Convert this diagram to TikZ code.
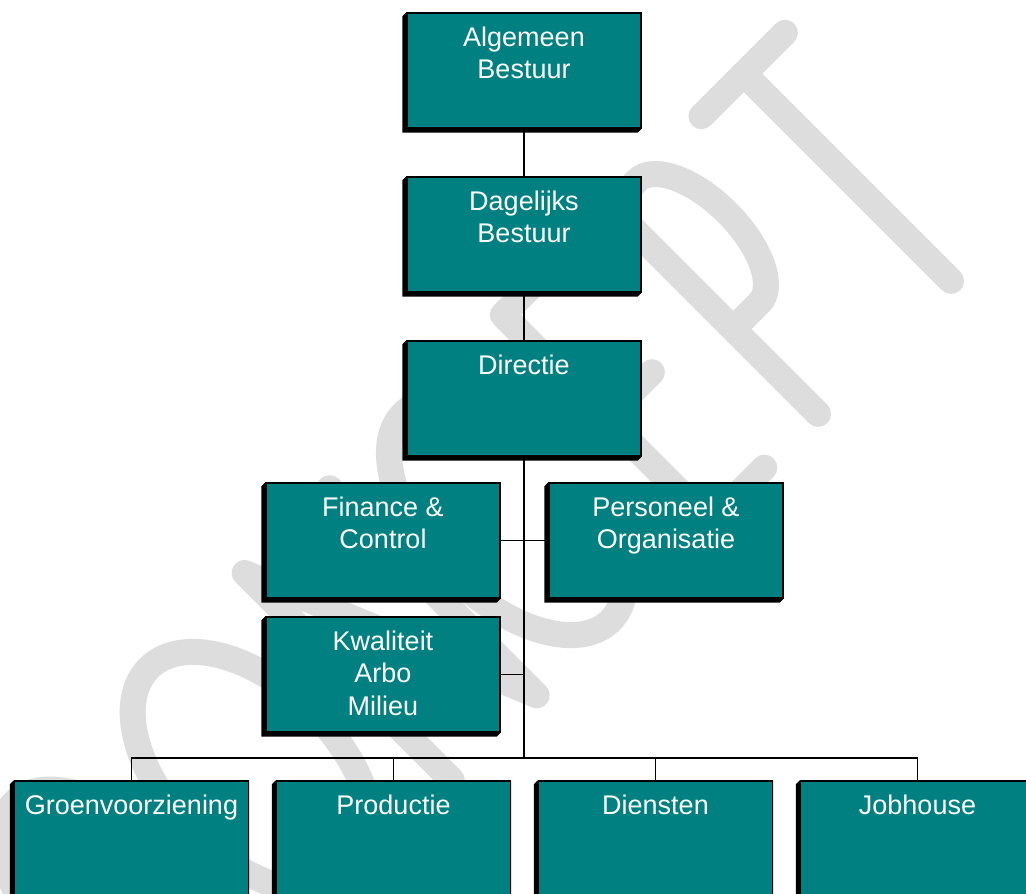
\documentclass[tikz,border=0pt]{standalone}
\usepackage{fontspec}
\setmainfont{Liberation Sans}
\pgfdeclarelayer{paper}
\pgfdeclarelayer{watermark}
\pgfdeclarelayer{extrude}
\pgfsetlayers{paper,watermark,extrude,main}
\definecolor{unitfill}{RGB}{0,128,128}
\definecolor{wmgray}{RGB}{221,221,221}
\tikzset{
  unit/.style={rectangle, fill=unitfill, draw=black, line width=1.3pt,
    minimum width=234pt, minimum height=115pt, inner sep=0pt},
  unittext/.style={text=white, font=\fontsize{27}{32.5}\selectfont,
    align=center, inner sep=0pt, anchor=north},
  link/.style={draw=black, line width=1.3pt},
  wmstroke/.style={draw=wmgray, line width=26pt, line cap=round, line join=round},
}
\begin{document}
\begin{tikzpicture}[x=1pt,y=-1pt]
\useasboundingbox (0,0) rectangle (1026,894);

\begin{pgfonlayer}{paper}
  \fill[white] (0,0) rectangle (1026,894);
\end{pgfonlayer}

% diagonal CONCEPT watermark, drawn as round-capped strokes
\begin{pgfonlayer}{watermark}
\clip (0,0) rectangle (1026,894);
\begin{scope}[shift={(0,894)}, x={(0.7071pt,0.7071pt)}, y={(-0.7071pt,0.7071pt)}]
\begin{scope}[shift={(0,-252)}]
  % C
  \draw[wmstroke] (132.5,254.2) arc[start angle=40, end angle=320, x radius=75, y radius=146.5];
  % O
  \draw[wmstroke] (265,160) ellipse [x radius=85, y radius=146.5];
  % N
  \draw[wmstroke] (400,13) -- (400,306) -- (520,13) -- (520,306);
  % C
  \draw[wmstroke] (686.3,254.2) arc[start angle=40, end angle=320, x radius=80, y radius=146.5];
  % E
  \draw[wmstroke] (842,306) -- (765,306) -- (765,13) -- (842,13);
  \draw[wmstroke] (765,160) -- (830,160);
  % P
  \draw[wmstroke] (918,13) -- (918,306) -- (955,306)
    arc[start angle=90, end angle=-90, x radius=41, y radius=86.5] -- (918,133);
  % T
  \draw[wmstroke] (1046,306) -- (1164,306);
  \draw[wmstroke] (1106,306) -- (1106,13);
\end{scope}
\end{scope}
\end{pgfonlayer}

% organisation units
\node[unit] (ab)  at (524,70.5)  {};
\node[unit] (db)  at (524,234.5) {};
\node[unit] (dir) at (524,398.5) {};
\node[unit] (fin) at (383,540.5) {};
\node[unit] (po)  at (666,540.5) {};
\node[unit] (kam) at (383,674.5) {};
\node[unit] (gv)  at (131.5,838.5) {};
\node[unit] (pr)  at (393.5,838.5) {};
\node[unit] (di)  at (655.5,838.5) {};
\node[unit] (jh)  at (917.5,838.5) {};

% 3D extrusion towards the lower left
\begin{pgfonlayer}{extrude}
\foreach \n in {ab,db,dir,fin,po,kam,gv,pr,di,jh}{
  \fill[black] (\n.north west) -- ++(-4,4) -- ([shift={(-4,4)}]\n.south west)
    -- ([shift={(-4,4)}]\n.south east) -- (\n.south east) -- (\n.north east) -- cycle;
}
\end{pgfonlayer}

% titles
\node[unittext] (ab-t)  at ([yshift=-14pt]ab.north)  {Algemeen\\Bestuur};
\node[unittext] (db-t)  at ([yshift=-14pt]db.north)  {Dagelijks\\Bestuur};
\node[unittext] (dir-t) at ([yshift=-14pt]dir.north) {Directie};
\node[unittext] (fin-t) at ([yshift=-14pt]fin.north) {Finance \&\\Control};
\node[unittext] (po-t)  at ([yshift=-14pt]po.north)  {Personeel \&\\Organisatie};
\node[unittext] (kam-t) at ([yshift=-14pt]kam.north) {Kwaliteit\\Arbo\\Milieu};
\node[unittext] (gv-t)  at ([yshift=-14pt]gv.north)  {Groenvoorziening};
\node[unittext] (pr-t)  at ([yshift=-14pt]pr.north)  {Productie};
\node[unittext] (di-t)  at ([yshift=-14pt]di.north)  {Diensten};
\node[unittext] (jh-t)  at ([yshift=-14pt]jh.north)  {Jobhouse};

% reporting lines
\coordinate (bus) at (524,758);
\draw[link] (ab.south) -- (db.north);
\draw[link] (db.south) -- (dir.north);
\draw[link] (dir.south) -- (bus);
\draw[link] (fin.east) -- (po.west);
\draw[link] (kam.east) -- (kam.east -| bus);
\draw[link] (gv.north) -- (gv.north |- bus) -- (jh.north |- bus) -- (jh.north);
\draw[link] (pr.north) -- (pr.north |- bus);
\draw[link] (di.north) -- (di.north |- bus);
\end{tikzpicture}
\end{document}
